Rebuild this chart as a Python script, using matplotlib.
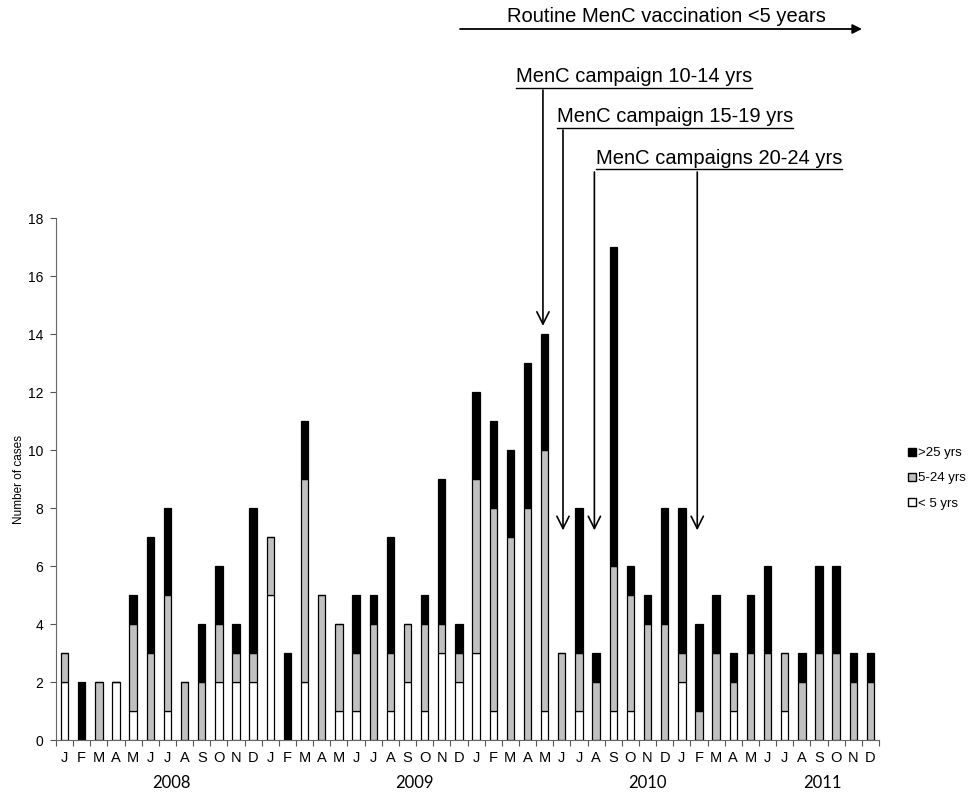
import numpy as np
import matplotlib
matplotlib.use("Agg")
import matplotlib.pyplot as plt
from matplotlib.patches import Patch

plt.rcParams['font.family'] = ['Liberation Sans', 'DejaVu Sans']

months = ["J", "F", "M", "A", "M", "J", "J", "A", "S", "O", "N", "D"] * 4
years = ["2008", "2009", "2010", "2011"]
year_pos = [6.25, 20.4, 34.0, 44.2]

# cases per month, Jan 2008 - Dec 2011
under5 = [2, 0, 0, 2, 1, 0, 1, 0, 0, 2, 2, 2,
          5, 0, 2, 0, 1, 1, 0, 1, 2, 1, 3, 2,
          3, 1, 0, 0, 1, 0, 1, 0, 1, 1, 0, 0,
          2, 0, 0, 1, 0, 0, 1, 0, 0, 0, 0, 0]
age5_24 = [1, 0, 2, 0, 3, 3, 4, 2, 2, 2, 1, 1,
           2, 0, 7, 5, 3, 2, 4, 2, 2, 3, 1, 1,
           6, 7, 7, 8, 9, 3, 2, 2, 5, 4, 4, 4,
           1, 1, 3, 1, 3, 3, 2, 2, 3, 3, 2, 2]
over25 = [0, 2, 0, 0, 1, 4, 3, 0, 2, 2, 1, 5,
          0, 3, 2, 0, 0, 2, 1, 4, 0, 1, 5, 1,
          3, 3, 3, 5, 4, 0, 5, 1, 11, 1, 1, 4,
          5, 3, 2, 1, 2, 3, 0, 1, 3, 3, 1, 1]

W, H = 974, 795
fig = plt.figure(figsize=(W / 100, H / 100), dpi=100)
ax = fig.add_axes([56 / W, 1 - 740 / H, 823 / W, 522 / H])

x = np.arange(len(months))
u = np.array(under5)
g = np.array(age5_24)
b = np.array(over25)
bw = 0.43
ax.bar(x, u, bw, color="white", edgecolor="black", linewidth=0.9)
ax.bar(x, g, bw, bottom=u, color="#c0c0c0", edgecolor="black", linewidth=0.9)
ax.bar(x, b, bw, bottom=u + g, color="black", edgecolor="black", linewidth=0.9)

ax.set_xlim(-0.5, len(months) - 0.5)
ax.set_ylim(0, 18)
ax.set_yticks(range(0, 19, 2))
ax.tick_params(axis="y", labelsize=10, length=4, width=0.8, colors="#555555",
               labelcolor="black", pad=5)
ax.set_xticks(x)
ax.set_xticklabels(months, fontsize=10.5)
ax.tick_params(axis="x", length=0, pad=8)
ax.set_xticks(np.arange(-0.5, len(months), 1), minor=True)
ax.tick_params(axis="x", which="minor", length=4, width=0.8, color="#555555")
for s in ["top", "right"]:
    ax.spines[s].set_visible(False)
for s in ["left", "bottom"]:
    ax.spines[s].set_color("#666666")
    ax.spines[s].set_linewidth(0.8)
ax.set_ylabel("Number of cases", fontsize=8.5, labelpad=2)

for yr, p in zip(years, year_pos):
    ax.text(p, -0.068, yr, transform=ax.get_xaxis_transform(), ha="center",
            va="top", fontsize=12, family="Lato")

# legend
handles = [Patch(facecolor="black", edgecolor="black", label=">25 yrs"),
           Patch(facecolor="#c0c0c0", edgecolor="black", label="5-24 yrs"),
           Patch(facecolor="white", edgecolor="black", label="< 5 yrs")]
fig.legend(handles=handles, loc="upper left", bbox_to_anchor=(903 / W, 1 - 442 / H),
           frameon=False, fontsize=9.5, handlelength=0.55, handleheight=0.55,
           handletextpad=0.15, labelspacing=1.0, borderaxespad=0)


def fp(px, py):
    return (px / W, 1 - py / H)


# routine vaccination arrow
ax.annotate("", xy=fp(862, 29), xytext=fp(460, 29), xycoords="figure fraction",
            textcoords="figure fraction",
            arrowprops=dict(arrowstyle="-|>", color="black", lw=1.3,
                            mutation_scale=14, shrinkA=0, shrinkB=0))
fig.text(666 / W, 1 - 17 / H, "Routine MenC vaccination <5 years", ha="center",
         va="center", fontsize=14.5)

# campaign labels (underlined) and arrows
labels = ["MenC campaign 10-14 yrs", "MenC campaign 15-19 yrs",
          "MenC campaigns 20-24 yrs"]
label_x = [516, 557, 596]
label_y = [77, 117, 158]
fig.canvas.draw()
r = fig.canvas.get_renderer()
for lab, lx, ly in zip(labels, label_x, label_y):
    t = fig.text(lx / W, 1 - ly / H, lab, ha="left", va="center", fontsize=14.5)
    bb = t.get_window_extent(renderer=r)
    fig.add_artist(plt.Line2D([bb.x0 / W, bb.x1 / W], [1 - (ly + 11) / H] * 2,
                              color="black", lw=1.0, transform=fig.transFigure))

arrow_x = [27.9, 29.07, 30.9, 36.9]
arrow_top = [90, 130, 172, 172]
arrow_tip = [14.28, 7.23, 7.23, 7.23]
for axx, top, tip in zip(arrow_x, arrow_top, arrow_tip):
    ax.annotate("", xy=(axx, tip), xycoords="data",
                xytext=(axx, 1 + (218 - top) / 522), textcoords=ax.get_xaxis_transform(),
                annotation_clip=False,
                arrowprops=dict(arrowstyle="->", color="black", lw=1.2,
                                mutation_scale=22, shrinkA=0, shrinkB=0))

fig.savefig("out.png", dpi=100)
